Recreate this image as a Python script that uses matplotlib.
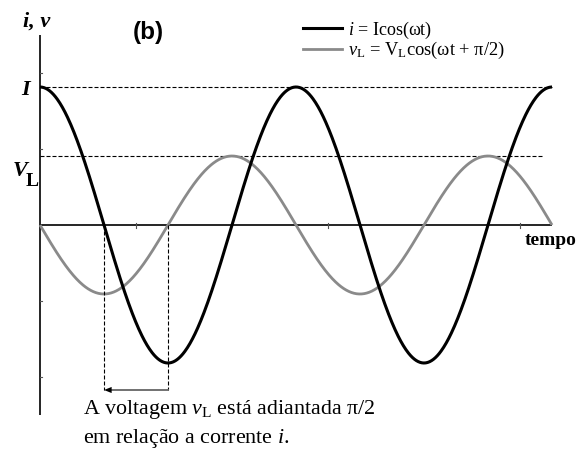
import numpy as np
import matplotlib
matplotlib.use("Agg")
import matplotlib.pyplot as plt
from matplotlib.lines import Line2D

plt.rcParams['font.family'] = ['Liberation Serif', 'DejaVu Serif']
plt.rcParams['mathtext.fontset'] = 'custom'
plt.rcParams['mathtext.rm'] = 'Liberation Serif'
plt.rcParams['mathtext.it'] = 'Liberation Serif:italic'
plt.rcParams['mathtext.bf'] = 'Liberation Serif:bold'

# Signal parameters
I_amp = 1.0            # current amplitude I
V_amp = 0.5            # inductor voltage amplitude V_L
phase_v = np.pi / 2    # voltage leads current by pi/2
n_periods = 2
tick_t = [3 * np.pi / 4, 9 * np.pi / 4, 15 * np.pi / 4]
tick_y = [-1.1, -0.55, 0.55, 1.1]

W, H = 579, 460
fig = plt.figure(figsize=(W / 100, H / 100), dpi=100)
ax = fig.add_axes([0, 0, 1, 1])
ax.set_axis_off()

# pixel geometry of the drawing area
x0_px, period_px = 40, 256
y0_px, unit_px = 226, 138
rad_per_px = 2 * np.pi / period_px
ax.set_xlim(-x0_px * rad_per_px, (W - x0_px) * rad_per_px)
ax.set_ylim(-(H - y0_px) / unit_px, y0_px / unit_px)

t_end = 2 * np.pi * n_periods
t = np.linspace(0, t_end, 800)
i_curve = I_amp * np.cos(t)
v_curve = V_amp * np.cos(t + phase_v)

BLACK = '#000000'
GRAY = '#8a8a8a'

# axes
y_ext = 190 / unit_px
ax.plot([0, 0], [-y_ext, y_ext], color='black', lw=1.2, solid_capstyle='butt')
ax.plot([0, t_end], [0, 0], color='black', lw=1.2, solid_capstyle='butt')
tx = 2.5 / unit_px
for tt in tick_t:
    ax.plot([tt, tt], [-tx, tx], color='#555555', lw=0.8)
ty = 2.5 * rad_per_px
for yy in tick_y:
    ax.plot([0, ty], [yy, yy], color='#555555', lw=0.8)

dash = (0, (3.6, 1.8))
# reference levels for the amplitudes
ax.plot([0, t_end], [I_amp, I_amp], color='black', lw=0.8, linestyle=dash)
ax.plot([0, t_end - 0.2], [V_amp, V_amp], color='black', lw=0.8, linestyle=dash)

# curves
ax.plot(t, v_curve, color=GRAY, lw=2.0, solid_capstyle='butt')
ax.plot(t, i_curve, color=BLACK, lw=2.2, solid_capstyle='butt')

# phase-difference marker between the first minima
t_v_min = np.pi - phase_v
t_i_min = np.pi
y_arrow = -165 / unit_px
ax.plot([t_v_min, t_v_min], [0, y_arrow], color='black', lw=0.8, linestyle=dash)
ax.plot([t_i_min, t_i_min], [0, y_arrow], color='black', lw=0.8, linestyle=dash)
ax.plot([t_v_min + 0.12, t_i_min], [y_arrow, y_arrow], color='#666666', lw=1.3)
ax.annotate('', xy=(t_v_min, y_arrow), xytext=(t_v_min + 0.2, y_arrow),
            arrowprops=dict(arrowstyle='-|>,head_length=0.55,head_width=0.22',
                            color='black', lw=0, shrinkA=0, shrinkB=0))


def ftext(px, py, s, **kw):
    fig.text(px / W, 1 - py / H, s, **kw)


# axis labels
ftext(37, 22, 'i, v', fontsize=16, fontweight='bold', style='italic',
      ha='center', va='center')
ftext(148, 33, '(b)', fontsize=17.5, fontweight='bold', family='Liberation Sans',
      ha='center', va='center')
ftext(26, 90, 'I', fontsize=16, fontweight='bold', style='italic',
      ha='center', va='center')
ftext(20, 171, 'V', fontsize=16, fontweight='bold', style='italic',
      ha='center', va='center')
ftext(32, 182, 'L', fontsize=14, fontweight='bold', ha='center', va='center')
ftext(525, 241, 'tempo', fontsize=14, fontweight='bold', ha='left', va='center')

# legend
for yy, col in [(29, BLACK), (50, GRAY)]:
    fig.add_artist(Line2D([303 / W, 342 / W], [1 - yy / H] * 2, color=col,
                          lw=2.2 if col == BLACK else 2.0,
                          transform=fig.transFigure))
ftext(348, 30, r'$i$ = Icos(ωt)', fontsize=13, ha='left', va='center')
ftext(348, 50, r'$v_{\rm L}$ = V$_{\rm L}$cos(ωt + π/2)', fontsize=13.3,
      ha='left', va='center')

# caption
ftext(83, 410, r'A voltagem $v_{\rm L}$ está adiantada π/2', fontsize=15.8,
      ha='left', va='center')
ftext(83, 438, r'em relação a corrente $i$.', fontsize=15.8,
      ha='left', va='center')

fig.savefig('out.png', dpi=100)
